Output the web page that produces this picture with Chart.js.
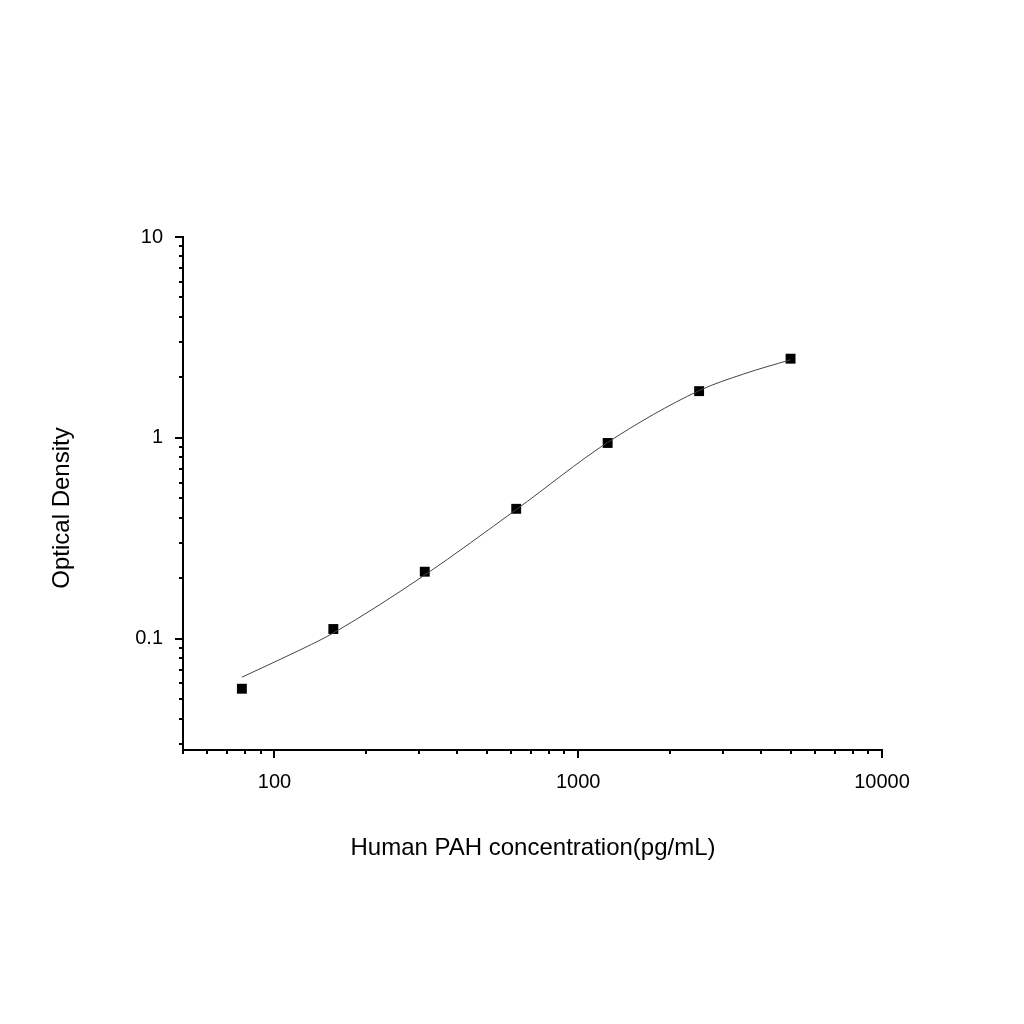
<!DOCTYPE html>
<html>
<head>
<meta charset="utf-8">
<script src="https://cdn.jsdelivr.net/npm/chart.js@4/dist/chart.umd.min.js"></script>
<style>
  html, body { margin: 0; padding: 0; background: #fff; }
  #wrap { width: 1024px; height: 1024px; }
</style>
</head>
<body>
<div id="wrap"><canvas id="c" width="1024" height="1024"></canvas></div>
<script>
'use strict';

// standard points
const concentrations = [78.125, 156.25, 312.5, 625, 1250, 2500, 5000];
const densities      = [0.0565, 0.112, 0.216, 0.444, 0.944, 1.71, 2.48];

// fitted curve
const curveX = [78.125, 125, 156.25, 312.5, 625, 1250, 2500, 3500, 5000];
const curveY = [0.0645, 0.090, 0.107, 0.208, 0.44, 0.95, 1.72, 2.08, 2.45];

// tick labels
const xMajor = [100, 1000, 10000];
const yMajor = [0.1, 1, 10];

const AXIS_FONT = 'Arial, "Liberation Sans", sans-serif';

// minor ticks + axis titles
const axisDecor = {
  id: 'axisDecor',
  afterDraw(chart) {
    const ctx = chart.ctx;
    const xs = chart.scales.x, ys = chart.scales.y;
    const area = chart.chartArea;
    ctx.save();
    ctx.strokeStyle = '#000';
    ctx.lineWidth = 2;
    ctx.beginPath();
    for (let d = 10; d <= 10000; d *= 10) {
      for (let k = 1; k < 10; k++) {
        const v = d * k;
        if (v < xs.min || v > xs.max) continue;
        const px = Math.round(xs.getPixelForValue(v));
        const len = k === 1 ? 8 : 4;
        ctx.moveTo(px, area.bottom);
        ctx.lineTo(px, area.bottom + len);
      }
    }
    for (let d = 0.01; d <= 10; d *= 10) {
      for (let k = 1; k < 10; k++) {
        const v = d * k;
        if (v < ys.min || v > ys.max * 1.0001) continue;
        const py = Math.round(ys.getPixelForValue(v));
        const len = k === 1 ? 8 : 4;
        ctx.moveTo(area.left, py);
        ctx.lineTo(area.left - len, py);
      }
    }
    ctx.stroke();

    ctx.fillStyle = '#000';
    ctx.font = '24px ' + AXIS_FONT;
    ctx.textAlign = 'center';
    ctx.textBaseline = 'middle';
    ctx.fillText('Human PAH concentration(pg/mL)', 533, 848);
    ctx.translate(62, 508);
    ctx.rotate(-Math.PI / 2);
    ctx.fillText('Optical Density', 0, 0);
    ctx.restore();
  }
};

const majorTicks = list => scale => { scale.ticks = list.map(v => ({ value: v })); };

new Chart(document.getElementById('c'), {
  type: 'scatter',
  data: {
    datasets: [
      {
        type: 'line',
        data: curveX.map((x, i) => ({ x, y: curveY[i] })),
        borderColor: '#444',
        borderWidth: 1,
        pointRadius: 0,
        cubicInterpolationMode: 'monotone',
        fill: false,
      },
      {
        data: concentrations.map((x, i) => ({ x, y: densities[i] })),
        pointStyle: 'rect',
        pointRadius: 7,
        backgroundColor: '#000',
        borderColor: '#000',
        borderWidth: 0,
      },
    ],
  },
  options: {
    responsive: false,
    animation: false,
    layout: { padding: { top: 237, right: 142, left: 0, bottom: 0 } },
    plugins: { legend: { display: false }, tooltip: { enabled: false } },
    scales: {
      x: {
        type: 'logarithmic',
        min: 50,
        max: 10000,
        afterBuildTicks: majorTicks(xMajor),
        afterFit(scale) { scale.height = 274; },
        grid: { display: false },
        border: { display: true, color: '#000', width: 2 },
        ticks: {
          color: '#000',
          font: { size: 20, family: AXIS_FONT },
          padding: 12,
          maxRotation: 0,
          callback: v => String(v),
        },
      },
      y: {
        type: 'logarithmic',
        min: 0.028,
        max: 10,
        afterBuildTicks: majorTicks(yMajor),
        afterFit(scale) { scale.width = 183; },
        grid: { display: false },
        border: { display: true, color: '#000', width: 2 },
        ticks: {
          color: '#000',
          font: { size: 20, family: AXIS_FONT },
          padding: 12,
          callback: v => String(v),
        },
      },
    },
  },
  plugins: [axisDecor],
});
</script>
</body>
</html>
